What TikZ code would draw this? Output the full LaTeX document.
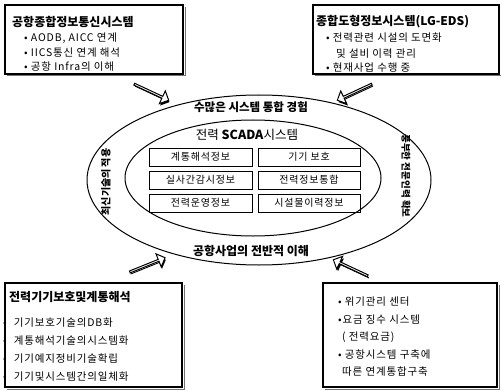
\documentclass[tikz,border=0pt]{standalone}
\usepackage{fontspec}
\setmainfont{Noto Sans CJK KR}
\newfontfamily\spacedfont[LetterSpace=8]{Noto Sans CJK KR}
\usetikzlibrary{shapes.arrows}
\begin{document}
\begin{tikzpicture}[x=1pt,y=-1pt,
  infobox/.style={draw=black, line width=1.3pt},
  boxshadow/.style={draw=black!55, line width=1pt},
  txt/.style={anchor=west, inner sep=0pt, font=\spacedfont\fontsize{10.5}{12}\selectfont},
  ttl/.style={anchor=west, inner sep=0pt, font=\fontsize{12}{14}\selectfont\bfseries},
  cell/.style={draw, line width=0.7pt, minimum height=18pt, inner sep=0pt, font=\spacedfont\fontsize{10}{11}\selectfont},
  ringtxt/.style={font=\fontsize{11.5}{13}\selectfont\bfseries, inner sep=0pt},
  sidetxt/.style={font=\fontsize{10}{12}\selectfont\bfseries, inner sep=0pt},
  blockarrow/.style={single arrow, draw=black, line width=1pt, fill=white, minimum height=38pt, minimum width=14pt, single arrow head extend=3pt, inner sep=0pt},
  arrowshadow/.style={single arrow, fill=black, minimum height=38pt, minimum width=14pt, single arrow head extend=3pt, inner sep=0pt}
]
\useasboundingbox (0,0) rectangle (502,390);
\fill[white] (0,0) rectangle (502,390);

% ellipses
\draw[line width=1pt] (259,180) ellipse [x radius=172pt, y radius=85pt];
\draw[line width=1pt] (253,178) ellipse [x radius=128pt, y radius=58pt];

% ring texts
\node[ringtxt] (ringtop) at (251,107.5) {수많은 시스템 통합 경험};
\node[ringtxt, font=\fontsize{12}{14}\selectfont\bfseries] (ringbot) at (251,251) {공항사업의 전반적 이해};
\node[sidetxt, rotate=90] (ringleft) at (106,182) {최신기술의 적용};
\node[sidetxt, font=\fontsize{9.5}{11}\selectfont\bfseries, rotate=-90] (ringright) at (406,176) {풍부한 전문인력 확보};

% SCADA core
\node[font=\fontsize{12.5}{14}\selectfont, inner sep=0pt] (scada) at (247,135) {전력 \textbf{SCADA}시스템};
\node[cell, minimum width=103pt] (c11) at (200.5,157) {계통해석정보};
\node[cell, minimum width=102pt] (c12) at (309,157) {기기 보호};
\node[cell, minimum width=103pt] (c21) at (200.5,180) {실사간감시정보};
\node[cell, minimum width=102pt] (c22) at (309,180) {전력정보통합};
\node[cell, minimum width=103pt] (c31) at (200.5,203) {전력운영정보};
\node[cell, minimum width=102pt] (c32) at (309,203) {시설물이력정보};

% block arrows (shadow + arrow)
\node[arrowshadow, rotate=-25] at (152,94) {};
\node[blockarrow, rotate=-25] (atl) at (151,92) {};
\node[arrowshadow, rotate=205] at (356,94) {};
\node[blockarrow, rotate=205] (atr) at (355,92) {};
\node[arrowshadow, rotate=22] at (148,267) {};
\node[blockarrow, rotate=22] (abl) at (147,265) {};
\node[arrowshadow, rotate=155] at (352,270) {};
\node[blockarrow, rotate=155] (abr) at (351,268) {};

% top-left box
\draw[boxshadow] (7,76) -- (185,76) -- (185,7);
\draw[infobox] (5,5) rectangle (183,74);
\node[ttl] (tlt) at (12,22) {공항종합정보통신시스템};
\node[txt] (tl1) at (24,38) {• AODB, AICC 연계};
\node[txt] (tl2) at (24,53) {• IICS통신 연계 해석};
\node[txt] (tl3) at (24,67) {• 공항 Infra의 이해};

% top-right box
\draw[boxshadow] (315,76) -- (501,76);
\draw[infobox] (313,5) rectangle (499,74);
\node[ttl] (trt) at (316,22) {종합도형정보시스템(LG-EDS)};
\node[txt] (tr1) at (326,38) {• 전력관련 시설의 도면화};
\node[txt] (tr2) at (336,54) {및 설비 이력 관리};
\node[txt] (tr3) at (326,68) {• 현재사업 수행 중};

% bottom-left box
\draw[boxshadow] (7,389) -- (184,389) -- (184,285);
\draw[infobox] (5,283) rectangle (182,387);
\node[anchor=west, inner sep=0pt, font=\fontsize{12}{14}\selectfont\bfseries] (blt) at (9,297) {전력기기보호및계통해석};
\node[txt] (bl1) at (3,323) {•\hspace{7pt}기기보호기술의DB화};
\node[txt] (bl2) at (3,341) {•\hspace{7pt}계통해석기술의시스템화};
\node[txt] (bl3) at (3,359) {•\hspace{7pt}기기예지정비기술확립};
\node[txt] (bl4) at (3,377) {•\hspace{7pt}기기및시스템간의일체화};

% bottom-right box
\draw[boxshadow] (325,389) -- (499,389) -- (499,285);
\draw[infobox] (323,283) rectangle (497,387);
\node[txt] (br1) at (338,302) {• 위기관리 센터};
\node[txt] (br2) at (338,320) {•요금 징수 시스템};
\node[txt] (br3) at (342,337) {( 전력요금)};
\node[txt] (br4) at (338,355) {• 공항시스템 구축에};
\node[txt] (br5) at (342,372) {따른 연계통합구축};
\end{tikzpicture}
\end{document}
